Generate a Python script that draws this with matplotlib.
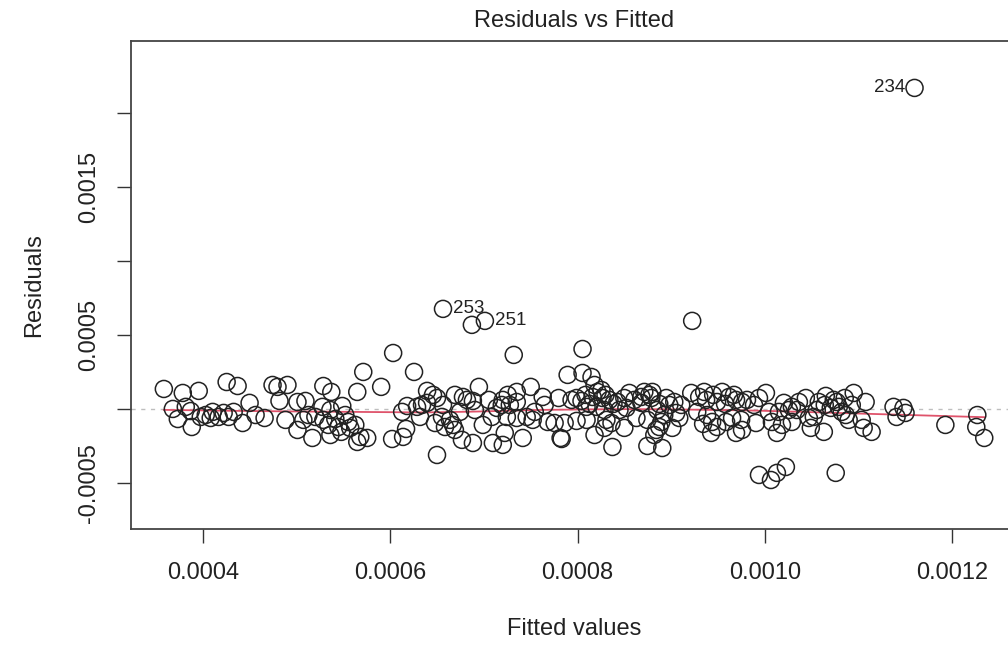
import numpy as np
import matplotlib
matplotlib.use("Agg")
import matplotlib.pyplot as plt

plt.rcParams['font.family'] = ['Liberation Sans', 'DejaVu Sans']

# fitted values and residuals, both in units of 1e-6
fitted_e6 = [
    358.5, 378.7, 395.7, 425.5, 437.2, 368.1, 373.4, 381.9, 387.2, 388.3,
    397.9, 410.6, 408.5, 417.0, 422.3, 427.7, 442.6, 450.0, 456.4, 466.0,
    474.5, 479.8, 490.4, 481.9, 488.3, 501.1, 509.6, 527.7, 548.9, 507.4,
    520.2, 528.7, 534.0, 541.5, 544.7, 555.3, 562.8, 501.1, 517.0, 536.2,
    547.9, 564.9, 575.5, 568.1, 602.1, 613.8, 617.0, 612.8, 618.1, 628.7,
    634.0, 639.4, 645.7, 650.0, 639.4, 631.9, 647.9, 650.0, 603.2, 571.3,
    625.5, 528.7, 537.2, 564.9, 590.4, 656.4, 687.2, 701.1, 731.9, 805.3,
    789.4, 805.3, 694.7, 669.1, 677.7, 681.9, 688.3, 705.3, 720.2, 725.5,
    735.1, 735.1, 750.0, 762.8, 779.8, 793.6, 798.9, 804.2, 809.6, 656.4,
    655.3, 663.8, 667.0, 658.5, 669.1, 698.9, 708.5, 713.8, 719.1, 724.5,
    735.1, 745.7, 754.3, 752.1, 768.1, 775.5, 786.2, 798.9, 809.6, 676.6,
    688.3, 709.6, 720.2, 722.3, 741.5, 783.0, 781.9, 814.9, 818.1, 825.5,
    816.0, 826.6, 834.0, 842.5, 820.2, 828.7, 844.7, 855.3, 860.6, 868.1,
    876.6, 878.7, 894.7, 897.9, 910.6, 921.3, 935.1, 937.2, 948.9, 954.3,
    961.7, 969.1, 868.1, 885.1, 892.5, 905.3, 852.1, 862.8, 874.5, 889.4,
    830.8, 836.2, 828.7, 818.1, 884.0, 887.2, 881.9, 901.1, 927.7, 938.3,
    943.6, 948.9, 942.6, 958.5, 964.9, 969.1, 837.2, 874.5, 890.4, 922.3,
    975.5, 980.8, 993.6, 1001.0, 1020.2, 1028.7, 1043.6, 1057.4, 1064.9, 1076.6,
    1085.1, 1094.7, 1107.4, 1004.2, 1025.5, 1034.0, 1055.3, 1070.2, 1078.7, 1086.2,
    1089.3, 974.5, 990.4, 1007.4, 1018.1, 1028.7, 1046.8, 1052.1, 1103.2, 975.5,
    1012.7, 1048.9, 1062.8, 1105.3, 1113.8, 993.6, 1006.4, 1012.7, 1022.3, 1075.5,
    1137.2, 1147.8, 1150.0, 1140.4, 1192.5, 1226.6, 1225.5, 1234.0, 1159.6,
    821.3, 829.8, 838.3, 849.9, 871.2, 879.8, 887.2, 903.2, 929.8, 944.7,
    957.4, 967.0, 808.5, 812.8, 764.9, 727.7, 690.4, 674.5, 536.2, 552.1,
    512.8, 557.4, 433.0, 403.2, 1036.2, 1063.8, 1073.4, 1081.9, 1014.9, 988.3,
    1092.6, 908.5, 934.0, 849.9,
]
resid_e6 = [
    135, 108, 122, 182, 155, 0, -68, 14, -14, -122,
    -54, -20, -61, -54, -27, -54, -95, 41, -41, -61,
    162, 149, 162, 54, -74, 47, 54, 14, 20, -74,
    -54, -74, -108, -68, -122, -88, -108, -142, -196, -176,
    -155, -223, -196, -189, -203, -189, -135, -20, 20, 14,
    27, 122, 95, 74, 41, -54, -95, -311, 378, 250,
    250, 155, 115, 115, 149, 676, 568, 595, 365, 405,
    230, 243, 149, 95, 81, 61, 54, 61, 61, 95,
    115, 47, 149, 81, 74, 61, 74, 54, 14, 27,
    -54, -74, -108, -122, -142, -108, -54, 7, 27, -54,
    -61, -54, -20, -74, -88, -95, -95, -81, -74, -209,
    -230, -230, -243, -162, -196, -203, -196, 216, 162, 128,
    81, 74, 61, 47, 14, -7, -7, 108, 61, 81,
    95, 74, 74, 27, 27, 108, 115, 61, 47, 115,
    81, 61, 41, -7, -41, -27, 7, -61, -74, -88,
    -74, -95, -128, -176, -142, -122, -176, -128, -20, -41,
    -88, -122, -162, -88, -61, -162, -257, -250, -264, 595,
    47, 61, 74, 108, 41, 14, 74, 47, 88, 47,
    74, 108, 47, -20, -7, -7, -7, 7, 14, -41,
    -74, -74, -95, -88, -108, -88, -61, -54, -74, -142,
    -162, -128, -155, -128, -155, -446, -480, -432, -392, -432,
    14, 7, -27, -54, -108, -41, -122, -196, 2169,
    115, 95, 34, 74, 115, 115, 34, 47, 81, 95,
    34, 95, 95, 34, 27, 27, -7, -20, -7, -41,
    -41, -128, -20, -41, 47, 27, 61, -20, -20, 27,
    27, -61, -101, -128,
]

# labelled observations: (index into the arrays, label, side)
labelled = [(218, '234', 'left'), (65, '253', 'right'), (67, '251', 'right')]

fitted = np.array(fitted_e6) * 1e-6
resid = np.array(resid_e6) * 1e-6


def lowess(x, y, f=2/3, iters=3):
    order = np.argsort(x)
    x = x[order]
    y = y[order]
    n = len(x)
    r = int(np.ceil(f * n))
    yest = np.zeros(n)
    robust = np.ones(n)
    for _ in range(iters + 1):
        for i in range(n):
            d = np.abs(x - x[i])
            h = np.sort(d)[r - 1]
            w = np.clip(d / h, 0, 1)
            w = (1 - w ** 3) ** 3 * robust
            sw = w.sum()
            mx = (w * x).sum() / sw
            my = (w * y).sum() / sw
            sxx = (w * (x - mx) ** 2).sum()
            b = (w * (x - mx) * (y - my)).sum() / sxx if sxx > 0 else 0
            yest[i] = my + b * (x[i] - mx)
        res = y - yest
        s = np.median(np.abs(res))
        u = np.clip(res / (6 * s), -1, 1)
        robust = (1 - u ** 2) ** 2
    return x, yest


fig = plt.figure(figsize=(10.08, 6.55), dpi=100)
ax = fig.add_axes([0.13, 0.1924, 0.879, 0.745])

ax.axhline(0, color='#bebebe', linestyle=(0, (3, 4)), linewidth=1.0, zorder=1)
ax.scatter(fitted, resid, s=150, facecolors='none', edgecolors='#222222',
           linewidths=1.1, zorder=3)
lx, ly = lowess(fitted, resid)
ax.plot(lx, ly, color='#DF536B', linewidth=1.3, zorder=2)

for idx, lab, side in labelled:
    if side == 'left':
        ax.annotate(lab, (fitted[idx], resid[idx]), xytext=(-7, 0),
                    textcoords='offset points', ha='right', va='center',
                    fontsize=13.5, color='#222222')
    else:
        ax.annotate(lab, (fitted[idx], resid[idx]), xytext=(7, 0),
                    textcoords='offset points', ha='left', va='center',
                    fontsize=13.5, color='#222222')

xr = fitted.max() - fitted.min()
ax.set_xlim(fitted.min() - 0.04 * xr, fitted.max() + 0.04 * xr)
ax.set_ylim(-0.000811, 0.002486)

ax.set_xticks([0.0004, 0.0006, 0.0008, 0.0010, 0.0012])
ax.set_xticklabels(['0.0004', '0.0006', '0.0008', '0.0010', '0.0012'])
ax.set_yticks([-0.0005, 0.0, 0.0005, 0.001, 0.0015, 0.002])
ax.set_yticklabels(['-0.0005', '', '0.0005', '', '0.0015', ''],
                   rotation=90, va='center')

ax.tick_params(length=10, width=1.0, colors='#333333', labelsize=17,
               labelcolor='#222222')
ax.tick_params(axis='x', pad=14)
ax.tick_params(axis='y', pad=12)
for sp in ax.spines.values():
    sp.set_color('#444444')
    sp.set_linewidth(1.3)

ax.set_xlabel('Fitted values', fontsize=17, color='#222222', labelpad=24)
ax.set_ylabel('Residuals', fontsize=17, color='#222222', labelpad=24)
ax.set_title('Residuals vs Fitted', fontsize=17, color='#222222', pad=10)

fig.savefig('out.png', dpi=100)
